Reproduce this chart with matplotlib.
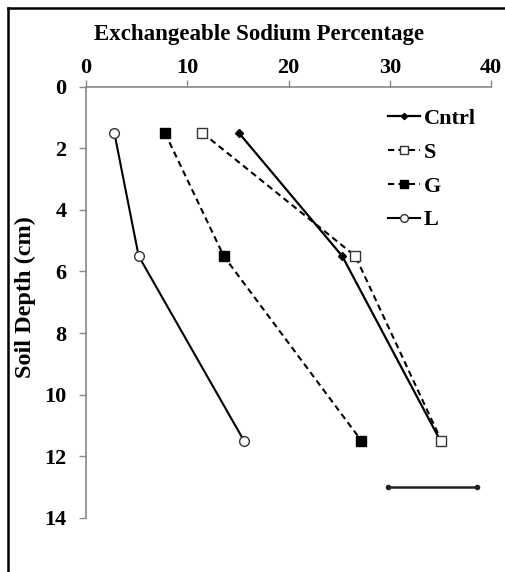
import matplotlib
matplotlib.use('Agg')
import matplotlib.pyplot as plt
from matplotlib.lines import Line2D

# Data
depth = [1.5, 5.5, 11.5]
esp_cntrl = [15.1, 25.3, 35.0]
esp_s = [11.5, 26.6, 35.1]
esp_g = [7.8, 13.6, 27.2]
esp_l = [2.8, 5.2, 15.6]

# LSD bar at the bottom right
lsd_x = [29.8, 38.6]
lsd_y = [13, 13]

x_ticks = [0, 10, 20, 30, 40]
y_ticks = [0, 2, 4, 6, 8, 10, 12, 14]

plt.rcParams['font.family'] = ['Liberation Serif', 'DejaVu Serif']
plt.rcParams['font.weight'] = 'bold'

fig = plt.figure(figsize=(5.05, 5.72), dpi=100)
ax = fig.add_axes([0.1703, 0.0949, 0.8020, 0.7535])

ax.plot(esp_cntrl, depth, color='black', lw=1.6, marker='D', ms=4,
        mfc='black', label='Cntrl')
ax.plot(esp_s, depth, color='black', lw=1.5, ls=(0, (3, 2)), marker='s', ms=7,
        mfc='white', mec='#333333', mew=1, label='S')
ax.plot(esp_g, depth, color='black', lw=1.5, ls=(0, (3, 2)), marker='s', ms=7,
        mfc='black', label='G')
ax.plot(esp_l, depth, color='black', lw=1.5, marker='o', ms=7,
        mfc='white', mec='#333333', mew=1, label='L')

ax.plot(lsd_x, lsd_y, color='#222222', lw=1.8, marker='o', ms=3)

ax.set_xlim(0, 40)
ax.set_ylim(14, 0)
ax.set_xticks(x_ticks)
ax.set_yticks(y_ticks)
ax.xaxis.tick_top()
ax.xaxis.set_label_position('top')
ax.tick_params(axis='both', direction='out', length=5, width=1, color='#888888',
               labelsize=16)
ax.tick_params(axis='x', pad=1)
ax.tick_params(axis='y', pad=9)

for side in ['right', 'bottom']:
    ax.spines[side].set_visible(False)
for side in ['left', 'top']:
    ax.spines[side].set_color('#888888')
    ax.spines[side].set_linewidth(1.2)

ax.set_xlabel('Exchangeable Sodium Percentage', fontsize=16.5, fontweight='bold',
              labelpad=13, x=0.427)
ax.set_ylabel('Soil Depth (cm)', fontsize=17.5, fontweight='bold', labelpad=6, y=0.511)

ax.legend(loc='upper left', bbox_to_anchor=((388 - 86) / 405, 0.950), frameon=False,
          fontsize=16, handlelength=1.45, handletextpad=0.15, labelspacing=0.6,
          borderaxespad=0, borderpad=0, markerscale=0.8)

# frame around the figure (left and top edges only)
fig.add_artist(Line2D([8 / 505, 8 / 505], [0, 1 - 8 / 572], color='black', lw=1.8,
                      transform=fig.transFigure))
fig.add_artist(Line2D([8 / 505, 1], [1 - 8 / 572, 1 - 8 / 572], color='black', lw=1.8,
                      transform=fig.transFigure))

fig.savefig('out.png', dpi=100)
plt.close(fig)
